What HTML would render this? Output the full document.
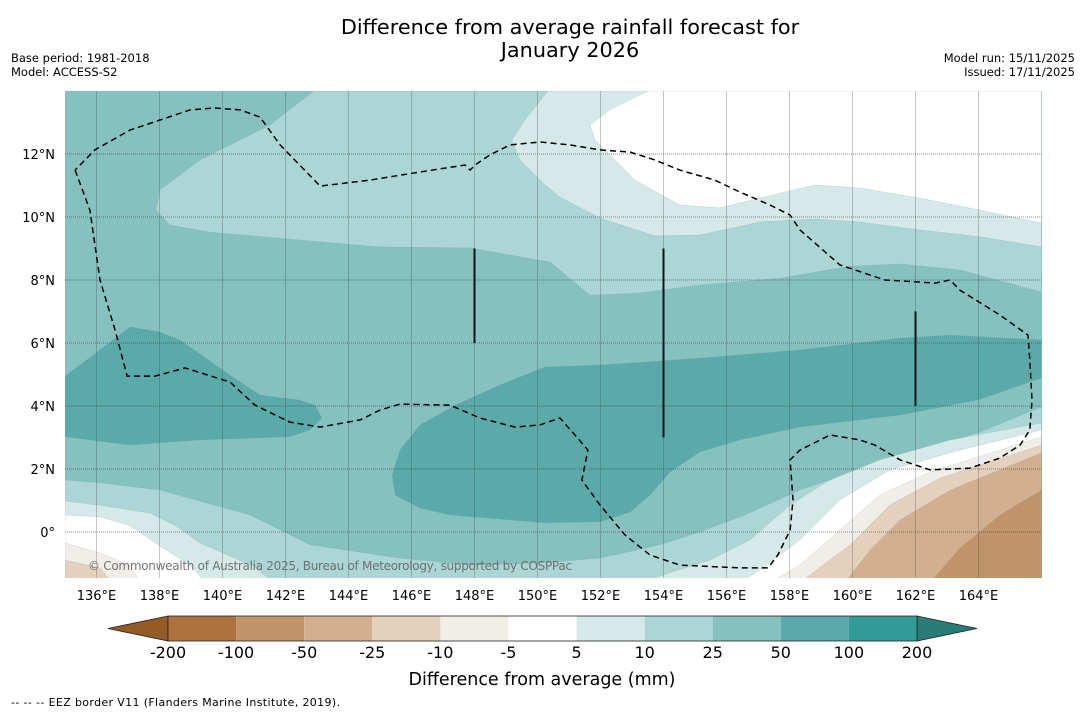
<!DOCTYPE html>
<html><head><meta charset="utf-8"><style>
html,body{margin:0;padding:0;background:#fff;}
svg{display:block;font-family:"DejaVu Sans","Liberation Sans",sans-serif;}
</style></head><body>
<svg id="chart" width="1085" height="713" viewBox="0 0 1085 713" xmlns="http://www.w3.org/2000/svg">
<defs><clipPath id="mapclip"><rect x="65" y="91" width="977" height="487"/></clipPath></defs>
<text x="570" y="34" text-anchor="middle" font-size="20.8" fill="#000">Difference from average rainfall forecast for</text>
<text x="570" y="57" text-anchor="middle" font-size="20.8" fill="#000">January 2026</text>
<text x="11" y="62" font-size="11.5" fill="#000">Base period: 1981-2018</text>
<text x="11" y="76" font-size="11.5" fill="#000">Model: ACCESS-S2</text>
<text x="1075" y="62" text-anchor="end" font-size="11.5" fill="#000">Model run: 15/11/2025</text>
<text x="1075" y="76" text-anchor="end" font-size="11.5" fill="#000">Issued: 17/11/2025</text>
<g id="map" clip-path="url(#mapclip)"></g>
<g id="grid"></g>
<g id="overlay" clip-path="url(#mapclip)"></g>
<g id="axes"></g>
<g id="cbar"></g>
<text x="542" y="685" text-anchor="middle" font-size="17.5" fill="#000">Difference from average (mm)</text>
<text x="11" y="706" font-size="11" fill="#000" textLength="329">--  --  -- EEZ border V11 (Flanders Marine Institute, 2019).</text>
</svg>
<script>
const lonTicks = [136,138,140,142,144,146,148,150,152,154,156,158,160,162,164];
const latTicks = [0,2,4,6,8,10,12];
const cbLevels = ["-200","-100","-50","-25","-10","-5","5","10","25","50","100","200"];
const cbColors = ["#ad733e","#c09369","#d2b08f","#e4d0bd","#f1ede8","#ffffff","#d5e9e8","#acd6d5","#84c1bf","#59aaa9","#339b97"];
const cbLowColor = "#955b26";
const cbHighColor = "#2a7c79";

const band10Top = [[142.9,14],[166,14],[166,7.62],[163.41,8.32],[161.51,8.51],[159.92,8.44],[157.7,8.06],[155.16,7.84],[153.25,7.59],[151.67,7.52],[150.4,8.57],[147.86,9.02],[145.0,9.05],[142.46,9.27],[139.6,9.52],[138.33,9.75],[137.89,10.22],[138.02,10.86],[139.29,11.81],[141.51,12.92]];
const band5Top = [[150.33,14],[166,14],[166,9.05],[164.05,9.37],[162.14,9.59],[160.24,9.84],[158.81,9.94],[157.06,9.84],[155.16,9.43],[153.73,9.4],[151.98,9.97],[150.71,10.63],[150.24,11.02],[149.44,11.81],[149.19,12.44],[149.6,13.08]];
const bandWhiteTop = [[153.51,14],[166,14],[166,9.81],[164.05,10.22],[162.14,10.6],[160.24,10.92],[158.81,11.02],[157.06,10.6],[155.79,10.29],[154.52,10.38],[153.1,11.17],[152.3,11.97],[151.83,12.44],[151.67,12.92],[152.3,13.4]];
const band50West = [[135,4.95],[136.11,5.78],[137.06,6.51],[138.02,6.35],[138.65,6.1],[140.24,4.98],[141.19,4.35],[142.46,4.19],[142.94,4.03],[143.16,3.62],[142.78,3.24],[142.14,3.02],[139.29,2.92],[137.06,2.76],[135,3.02]];
const band50Central = [[145.38,1.81],[145.63,2.6],[146.27,3.4],[147.38,4.03],[148.81,4.67],[150.24,5.24],[151.98,5.3],[155.16,5.52],[158.33,5.78],[161.51,6.16],[163.1,6.25],[166,6.1],[166,4.89],[163.98,4.19],[161.51,3.71],[158.33,3.33],[156.43,2.92],[155.16,2.54],[154.21,1.9],[153.57,1.17],[152.94,0.63],[151.98,0.32],[150.24,0.29],[147.22,0.54],[146.27,0.76],[145.48,1.17]];
const band10Low = [[135,1.65],[136.11,1.56],[138.02,1.33],[140.87,0.54],[142.78,-0.41],[145.63,-0.83],[147.86,-1.05],[150.24,-0.98],[151.98,-0.83],[153.89,-0.41],[155.16,0.0],[156.59,0.54],[158.33,1.33],[160.24,1.97],[162.14,2.6],[164.05,3.17],[166,3.97],[166,-1.6],[135,-1.6]];
const band5Low = [[135,0.98],[136.11,0.85],[137.7,0.6],[138.5,0.2],[139.29,-0.35],[141.0,-1.1],[141.6,-1.6],[153.25,-1.6],[155.48,-0.89],[156.75,-0.25],[158.02,0.86],[159.29,1.65],[160.87,2.29],[163.1,2.92],[166,3.46],[166,-1.6],[135,-1.6]];
const bandWhiteLow = [[135,0.54],[136.11,0.48],[137.06,0.2],[138.02,-0.45],[138.97,-1.05],[139.45,-1.6],[156.43,-1.6],[157.06,-1.21],[158.33,-0.25],[159.6,1.02],[161.19,1.97],[163.41,2.6],[166,3.24],[166,-1.6],[135,-1.6]];
const bandM5 = [[135,-0.35],[136.11,-0.67],[137.06,-1.05],[137.38,-1.6],[157.38,-1.6],[158.33,-1.05],[159.6,0.06],[160.87,1.17],[162.46,1.9],[166,3.02],[166,-1.6],[135,-1.6]];
const bandM10 = [[135,-0.89],[136.11,-1.14],[136.49,-1.6],[158.33,-1.6],[159.92,-0.41],[161.19,0.86],[162.78,1.71],[166,2.76],[166,-1.6],[135,-1.6]];
const bandM25 = [[159.76,-1.6],[160.56,-0.57],[161.51,0.38],[163.1,1.33],[166,2.51],[166,-1.6]];
const bandM50 = [[162.46,-1.6],[163.41,-0.51],[164.68,0.54],[166,1.33],[166,-1.6]];

const eezBorder = [[135.32,11.49],[135.79,10.22],[136.11,8.0],[136.59,6.41],[136.97,4.95],[137.86,4.95],[138.81,5.21],[140.24,4.76],[141.03,4.03],[142.14,3.49],[143.1,3.33],[144.37,3.56],[145.0,3.87],[145.63,4.06],[147.22,4.03],[148.17,3.62],[149.29,3.33],[150.08,3.4],[150.71,3.62],[151.19,3.08],[151.6,2.6],[151.41,1.65],[151.98,0.86],[152.78,-0.1],[153.57,-0.73],[154.52,-1.05],[156.43,-1.14],[157.32,-1.14],[157.63,-0.73],[158.02,0.06],[158.11,1.02],[158.02,2.29],[158.33,2.6],[159.29,3.08],[160.24,2.92],[160.71,2.76],[161.51,2.29],[162.46,1.97],[163.73,2.03],[164.68,2.35],[165.32,2.76],[165.63,3.24],[165.7,4.19],[165.63,5.46],[165.57,6.25],[164.68,6.89],[163.41,7.68],[163.1,8.0],[162.62,7.9],[161.03,8.0],[159.6,8.48],[158.33,9.59],[158.02,10.06],[157.38,10.38],[156.43,10.79],[155.63,11.17],[154.52,11.49],[153.73,11.81],[152.94,12.06],[151.98,12.13],[151.03,12.29],[150.08,12.38],[149.13,12.29],[148.49,11.97],[148.02,11.65],[147.86,11.49],[147.7,11.65],[146.27,11.43],[144.68,11.17],[143.1,10.98],[141.83,12.29],[141.19,13.17],[140.56,13.4],[139.76,13.46],[138.97,13.4],[138.02,13.08],[137.06,12.76],[135.95,12.13],[135.32,11.49]];
const meridianBars = [[148,9,6],[154,9,3],[162,7,4]];

const NS="http://www.w3.org/2000/svg";
const X0=65,Y0=91,W=977,H=487,LON0=135,LAT0=14,PPD=31.5;
function xs(lon){return X0+(lon-LON0)*PPD;}
function ys(lat){return Y0+(LAT0-lat)*PPD;}
function mk(tag,attrs,parent){const e=document.createElementNS(NS,tag);for(const k in attrs)e.setAttribute(k,attrs[k]);parent.appendChild(e);return e;}
function linePath(arr,closed){
  const P=arr.map(p=>[xs(p[0]),ys(p[1])]);
  let d="M"+P[0][0].toFixed(1)+","+P[0][1].toFixed(1);
  for(let i=1;i<P.length;i++)d+=" L"+P[i][0].toFixed(1)+","+P[i][1].toFixed(1);
  return d+(closed?" Z":"");
}
const map=document.getElementById('map');
const bg=mk('rect',{x:X0,y:Y0,width:W,height:H,fill:cbColors[8]},map);


const layers=[
 [band10Top,cbColors[7],'band-10-25-north'],
 [band5Top,cbColors[6],'band-5-10-north'],
 [bandWhiteTop,cbColors[5],'band-near-average-north'],
 [band50West,cbColors[9],'band-50-100-west'],
 [band50Central,cbColors[9],'band-50-100-central'],
 [band10Low,cbColors[7],'band-10-25-south'],
 [band5Low,cbColors[6],'band-5-10-south'],
 [bandWhiteLow,cbColors[5],'band-near-average-south'],
 [bandM5,cbColors[4],'band-minus5-minus10'],
 [bandM10,cbColors[3],'band-minus10-minus25'],
 [bandM25,cbColors[2],'band-minus25-minus50'],
 [bandM50,cbColors[1],'band-minus50-minus100']
];
layers.forEach(l=>{
  const p=mk('path',{d:linePath(l[0],true),fill:l[1],stroke:'#8aa',"stroke-width":0.4,"stroke-opacity":0.5},map);
  
  
});
const grid=document.getElementById('grid');
lonTicks.forEach(lon=>{
  const g=mk('line',{x1:xs(lon),x2:xs(lon),y1:Y0,y2:Y0+H,stroke:'#444',"stroke-opacity":0.3,"stroke-width":1},grid);
  
  
});
latTicks.forEach(lat=>{
  const g=mk('line',{x1:X0,x2:X0+W,y1:ys(lat),y2:ys(lat),stroke:'#444',"stroke-opacity":0.6,"stroke-width":1,"stroke-dasharray":"1,1"},grid);
  
  
});
const ov=document.getElementById('overlay');
const eez=mk('path',{d:linePath(eezBorder,false),fill:'none',stroke:'#000',"stroke-width":1.5,"stroke-dasharray":"6,4"},ov);


meridianBars.forEach(b=>{
  const l=mk('line',{x1:xs(b[0]),x2:xs(b[0]),y1:ys(b[1]),y2:ys(b[2]),stroke:'#111',"stroke-width":2},ov);
  
  
});
const cr=mk('text',{x:88,y:570,"font-size":12,fill:'#666',"fill-opacity":0.9,textLength:484},ov);
cr.textContent='© Commonwealth of Australia 2025, Bureau of Meteorology, supported by COSPPac';


const axes=document.getElementById('axes');
lonTicks.forEach(lon=>{
  const t=mk('text',{x:xs(lon),y:600,"text-anchor":"middle","font-size":13,fill:'#000'},axes);
  t.textContent=lon+'°E';
  
  
});
latTicks.forEach(lat=>{
  const t=mk('text',{x:55,y:ys(lat)+5,"text-anchor":"end","font-size":13,fill:'#000'},axes);
  t.textContent=lat===0?'0°':lat+'°N';
  
  
});
const cb=document.getElementById('cbar');
const CBX0=168,CBX1=917,CBY=616,CBH=25,TRI=60;
const bw=(CBX1-CBX0)/cbColors.length;
const lt=mk('polygon',{points:`${CBX0},${CBY} ${CBX0-TRI},${CBY+CBH/2} ${CBX0},${CBY+CBH}`,fill:cbLowColor,stroke:'#222',"stroke-width":0.8},cb);


const rt=mk('polygon',{points:`${CBX1},${CBY} ${CBX1+TRI},${CBY+CBH/2} ${CBX1},${CBY+CBH}`,fill:cbHighColor,stroke:'#222',"stroke-width":0.8},cb);


cbColors.forEach((c,i)=>{
  const r=mk('rect',{x:CBX0+i*bw,y:CBY,width:bw,height:CBH,fill:c},cb);
  
  
});
mk('rect',{x:CBX0,y:CBY,width:CBX1-CBX0,height:CBH,fill:'none',stroke:'#222',"stroke-width":0.8},cb);
cbLevels.forEach((lab,i)=>{
  const t=mk('text',{x:CBX0+i*bw,y:658,"text-anchor":"middle","font-size":16,fill:'#000'},cb);
  t.textContent=lab;
  
  
});
</script>
</body></html>
